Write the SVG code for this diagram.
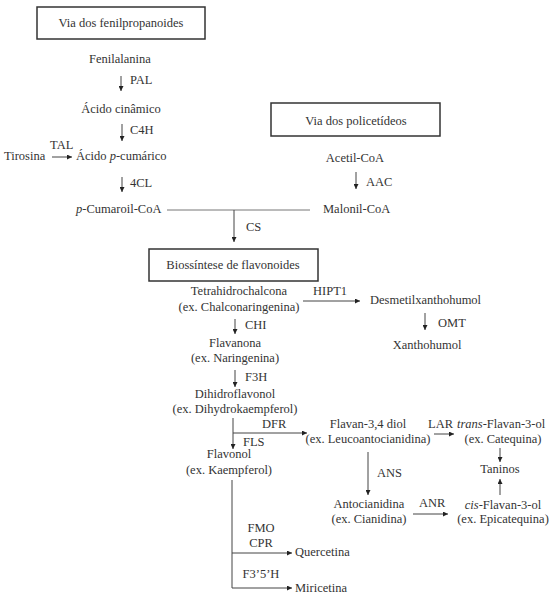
<svg xmlns="http://www.w3.org/2000/svg" width="550" height="599" viewBox="0 0 550 599">
<style>
text{font-size:12.5px;fill:#333}
.c{text-anchor:middle}
.box{fill:#fff;stroke:#333;stroke-width:1.5}
.ln{stroke:#444;stroke-width:1;fill:none}
.lg{stroke:#777;stroke-width:1;fill:none}
.a{marker-end:url(#ah)}
</style>
<defs>
<marker id="ah" viewBox="0 0 6 6" markerWidth="6" markerHeight="5" refX="6" refY="3" orient="auto" markerUnits="userSpaceOnUse">
<path d="M0,0 L6,3 L0,6 z" fill="#222"/>
</marker>
</defs>
<rect width="550" height="599" fill="#fff"/>
<g id="connectors">
<line class="ln a" x1="121" y1="76" x2="121" y2="91"/>
<line class="ln a" x1="122" y1="124" x2="122" y2="141"/>
<line class="ln a" x1="52" y1="157" x2="72" y2="157"/>
<line class="ln a" x1="122" y1="177" x2="122" y2="192"/>
<line class="ln a" x1="356" y1="172" x2="356" y2="189"/>
<line class="lg" x1="167" y1="210" x2="310" y2="210"/>
<line class="ln a" x1="234" y1="210" x2="234" y2="242"/>
<line class="ln a" x1="303" y1="301" x2="360" y2="301"/>
<line class="ln a" x1="425" y1="313" x2="425" y2="330"/>
<line class="ln a" x1="235" y1="319" x2="235" y2="334"/>
<line class="ln a" x1="235" y1="370" x2="235" y2="387"/>
<line class="ln a" x1="233" y1="418" x2="233" y2="449"/>
<line class="ln a" x1="233" y1="433" x2="307" y2="433"/>
<line class="ln a" x1="434" y1="434" x2="454" y2="434"/>
<line class="ln a" x1="368" y1="452" x2="368" y2="495"/>
<line class="ln a" x1="413" y1="514" x2="448" y2="514"/>
<line class="ln a" x1="500" y1="448" x2="500" y2="462"/>
<line class="ln a" x1="500" y1="495" x2="500" y2="479"/>
<line class="ln" x1="232" y1="480" x2="232" y2="588"/>
<line class="ln a" x1="232" y1="553" x2="292" y2="553"/>
<line class="ln a" x1="232" y1="588" x2="292" y2="588"/>
</g>
<g font-family="Liberation Serif, Times New Roman, DejaVu Serif, serif">
<g id="box-fenilpropanoides"><rect class="box" x="37" y="7" width="168" height="32"/><text class="c" x="121" y="27">Via dos fenilpropanoides</text></g>
<g id="fenilalanina"><text class="c" x="120" y="63">Fenilalanina</text></g>
<g id="lbl-pal"><text x="130" y="84">PAL</text></g>
<g id="acido-cinamico"><text class="c" x="121" y="113">Ácido cinâmico</text></g>
<g id="lbl-c4h"><text x="130" y="134">C4H</text></g>
<g id="tirosina"><text x="4" y="160">Tirosina</text></g>
<g id="lbl-tal"><text x="50" y="149">TAL</text></g>
<g id="acido-p-cumarico"><text x="76" y="160">Ácido <tspan font-style="italic">p</tspan>-cumárico</text></g>
<g id="lbl-4cl"><text x="130" y="187">4CL</text></g>
<g id="p-cumaroil-coa"><text x="76" y="213"><tspan font-style="italic">p</tspan>-Cumaroil-CoA</text></g>
<g id="box-policetideos"><rect class="box" x="271" y="103" width="169" height="33"/><text class="c" x="356" y="125">Via dos policetídeos</text></g>
<g id="acetil-coa"><text class="c" x="355" y="162">Acetil-CoA</text></g>
<g id="lbl-aac"><text x="366" y="186">AAC</text></g>
<g id="malonil-coa"><text x="323" y="213">Malonil-CoA</text></g>
<g id="lbl-cs"><text x="246" y="231">CS</text></g>
<g id="box-flavonoides"><rect class="box" x="149" y="249" width="169" height="32"/><text class="c" x="233" y="269">Biossíntese de flavonoides</text></g>
<g id="tetrahidrochalcona"><text class="c" x="239" y="295">Tetrahidrochalcona</text><text class="c" x="239" y="311">(ex. Chalconaringenina)</text></g>
<g id="lbl-hipt1"><text x="313" y="295">HIPT1</text></g>
<g id="desmetilxanthohumol"><text x="370" y="304">Desmetilxanthohumol</text></g>
<g id="lbl-omt"><text x="438" y="327">OMT</text></g>
<g id="xanthohumol"><text class="c" x="427" y="349">Xanthohumol</text></g>
<g id="lbl-chi"><text x="245" y="329">CHI</text></g>
<g id="flavanona"><text class="c" x="235" y="347">Flavanona</text><text class="c" x="235" y="362">(ex. Naringenina)</text></g>
<g id="lbl-f3h"><text x="245" y="381">F3H</text></g>
<g id="dihidroflavonol"><text class="c" x="235" y="398">Dihidroflavonol</text><text class="c" x="235" y="413">(ex. Dihydrokaempferol)</text></g>
<g id="lbl-dfr"><text x="262" y="428">DFR</text></g>
<g id="lbl-fls"><text x="243" y="446">FLS</text></g>
<g id="flavonol"><text class="c" x="229" y="458">Flavonol</text><text class="c" x="229" y="474">(ex. Kaempferol)</text></g>
<g id="flavan-34-diol"><text class="c" x="368" y="428">Flavan-3,4 diol</text><text class="c" x="368" y="443">(ex. Leucoantocianidina)</text></g>
<g id="lbl-lar"><text x="428" y="428">LAR</text></g>
<g id="trans-flavan-3-ol"><text x="457" y="428"><tspan font-style="italic">trans</tspan>-Flavan-3-ol</text><text class="c" x="503" y="443">(ex. Catequina)</text></g>
<g id="taninos"><text class="c" x="500" y="473">Taninos</text></g>
<g id="lbl-ans"><text x="377" y="477">ANS</text></g>
<g id="antocianidina"><text class="c" x="369" y="508">Antocianidina</text><text class="c" x="369" y="523">(ex. Cianidina)</text></g>
<g id="lbl-anr"><text x="419" y="507">ANR</text></g>
<g id="cis-flavan-3-ol"><text class="c" x="503" y="509"><tspan font-style="italic">cis</tspan>-Flavan-3-ol</text><text class="c" x="503" y="523">(ex. Epicatequina)</text></g>
<g id="lbl-fmo-cpr"><text class="c" x="261" y="532">FMO</text><text class="c" x="261" y="547">CPR</text></g>
<g id="quercetina"><text x="295" y="556">Quercetina</text></g>
<g id="lbl-f35h"><text class="c" x="261" y="578">F3’5’H</text></g>
<g id="miricetina"><text x="295" y="592">Miricetina</text></g>
</g>
</svg>
